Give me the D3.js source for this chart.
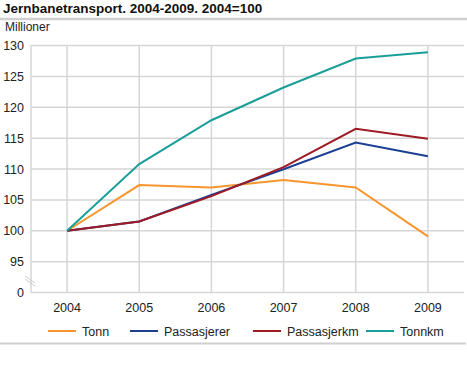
<!DOCTYPE html>
<html><head><meta charset="utf-8">
<script src="https://cdn.jsdelivr.net/npm/d3@7"></script>
<style>body{margin:0;background:#fff;}svg{display:block;font-family:"Liberation Sans",Arial,sans-serif;}</style>
</head><body>
<svg id="c" width="467" height="380"></svg>
<script>
const years = ["2004","2005","2006","2007","2008","2009"];
const tonn = [100, 107.4, 107.0, 108.2, 107.0, 99.1];
const passasjerer = [100, 101.5, 105.8, 109.95, 114.3, 112.05];
const passasjerkm = [100, 101.5, 105.6, 110.3, 116.5, 114.9];
const tonnkm = [100, 110.8, 117.9, 123.2, 127.9, 128.9];
const seriesNames = ["Tonn","Passasjerer","Passasjerkm","Tonnkm"];
const seriesColors = ["#f7962f","#1c3f94","#9e1a24","#1a9e99"];
const yTicks = [90,95,100,105,110,115,120,125,130];
const yTickLabels = ["0","95","100","105","110","115","120","125","130"];

const svg = d3.select("#c");
const L = 31, R = 464, T = 45.5, B = 292.5;
const x = d3.scalePoint().domain(years).range([L, R]).padding(0.5);
const y = d3.scaleLinear().domain([90,130]).range([B, T]);

// title
svg.append("text").attr("x",3).attr("y",13).attr("font-size",13.5).attr("font-weight","bold").attr("fill","#111")
  .text("Jernbanetransport. 2004-2009. 2004=100");
svg.append("line").attr("x1",0).attr("x2",467).attr("y1",19).attr("y2",19).attr("stroke","#cfcfcf").attr("stroke-width",2.5);
svg.append("text").attr("x",5).attr("y",31).attr("font-size",12).attr("fill","#222").text("Millioner");

// grid
const g = svg.append("g");
g.selectAll(".hg").data(yTicks.slice(1)).join("line")
  .attr("x1",L).attr("x2",R).attr("y1",d=>y(d)).attr("y2",d=>y(d))
  .attr("stroke","#d6d6d6").attr("stroke-width",1.5);
g.selectAll(".vg").data(years).join("line")
  .attr("x1",d=>x(d)).attr("x2",d=>x(d)).attr("y1",T).attr("y2",B)
  .attr("stroke","#d6d6d6").attr("stroke-width",1.5);
g.append("line").attr("x1",L).attr("x2",L).attr("y1",T).attr("y2",B).attr("stroke","#d6d6d6").attr("stroke-width",1.5);
g.append("line").attr("x1",L).attr("x2",R).attr("y1",B).attr("y2",B).attr("stroke","#d6d6d6").attr("stroke-width",1.5);

// y labels
svg.selectAll(".yl").data(yTicks).join("text")
  .attr("x",24).attr("y",d=>y(d)+4.5).attr("text-anchor","end").attr("font-size",12.5).attr("fill","#222")
  .text((d,i)=>yTickLabels[i]);
// x labels
svg.selectAll(".xl").data(years).join("text")
  .attr("x",d=>x(d)).attr("y",312).attr("text-anchor","middle").attr("font-size",12.5).attr("fill","#222").text(d=>d);

// break marks
[0,3].forEach(o=>{
  svg.append("line").attr("x1",25).attr("y1",276+o).attr("x2",35).attr("y2",283+o).attr("stroke","#cccccc").attr("stroke-width",1);
});

// lines
const data = [tonn, passasjerer, passasjerkm, tonnkm];
const line = d3.line().x((d,i)=>x(years[i])).y(d=>y(d));
data.forEach((s,i)=>{
  svg.append("path").attr("d",line(s)).attr("fill","none").attr("stroke",seriesColors[i]).attr("stroke-width",2);
});

// legend
const legX = [48,130,253,366];
seriesNames.forEach((n,i)=>{
  svg.append("line").attr("x1",legX[i]).attr("x2",legX[i]+28).attr("y1",331).attr("y2",331).attr("stroke",seriesColors[i]).attr("stroke-width",2);
  svg.append("text").attr("x",legX[i]+34).attr("y",335.5).attr("font-size",12.5).attr("fill","#222").text(n);
});
svg.append("line").attr("x1",0).attr("x2",466).attr("y1",343.5).attr("y2",343.5).attr("stroke","#cfcfcf").attr("stroke-width",2);
</script>
</body></html>
